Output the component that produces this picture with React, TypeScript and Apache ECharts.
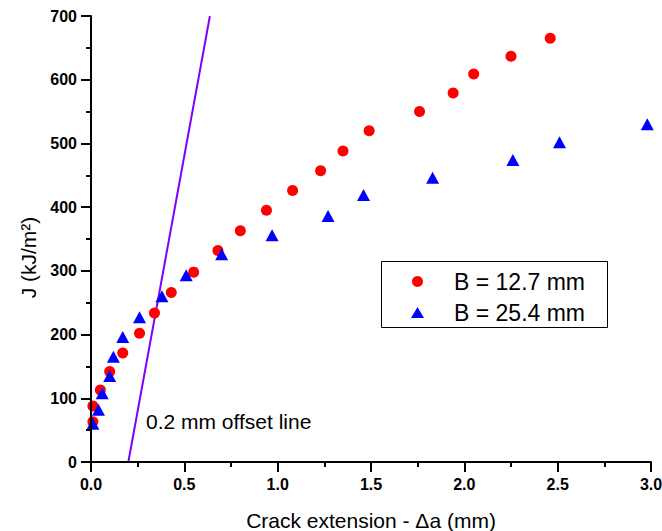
import React, { useEffect, useRef } from "react";
import * as echarts from "echarts";

// B = 12.7 mm specimen
const crackExt127 = [0.01, 0.01, 0.05, 0.1, 0.17, 0.26, 0.34, 0.43, 0.55, 0.68, 0.8, 0.94, 1.08, 1.23, 1.35, 1.49, 1.76, 1.94, 2.05, 2.25, 2.46];
const j127 = [63, 88, 113, 142, 171, 202, 234, 266, 298, 332, 363, 395, 426, 457, 488, 520, 550, 579, 609, 637, 665];

// B = 25.4 mm specimen
const crackExt254 = [0.01, 0.04, 0.06, 0.1, 0.12, 0.17, 0.26, 0.38, 0.51, 0.7, 0.97, 1.27, 1.46, 1.83, 2.26, 2.51, 2.98];
const j254 = [60, 82, 108, 135, 165, 196, 227, 260, 293, 326, 356, 386, 419, 446, 474, 502, 530];

// 0.2 mm offset line
const offsetDeltaA = [0.2, 0.637];
const offsetJ = [0, 700];

const seriesNames = ["B = 12.7 mm", "B = 25.4 mm"];
const xAxisTitle = "Crack extension - \u0394a (mm)";
const yAxisTitle = "J (kJ/m\u00B2)";
const offsetLabel = "0.2 mm offset line";

const FONT = 'Arial, "Liberation Sans", Helvetica, sans-serif';

const zip = (xs: number[], ys: number[]) => xs.map((x, i) => [x, ys[i]]);

export default function App() {
  const ref = useRef<HTMLDivElement>(null);
  useEffect(() => {
    const chart = echarts.init(ref.current!, null, { renderer: "svg" });
    const axisCommon = {
      type: "value",
      z: 10,
      nameLocation: "middle",
      axisLine: { show: true, onZero: false, lineStyle: { color: "#000", width: 2 } },
      axisTick: { show: true, inside: false, length: 10, lineStyle: { color: "#000", width: 2 } },
      minorTick: { show: true, splitNumber: 2, length: 5, lineStyle: { color: "#000", width: 2 } },
      splitLine: { show: false },
      minorSplitLine: { show: false },
    };
    const tickLabel = {
      margin: 14,
      fontSize: 16,
      fontWeight: 700,
      color: "#000",
      fontFamily: FONT,
    };
    chart.setOption({
      animation: false,
      backgroundColor: "#fff",
      textStyle: { fontFamily: FONT },
      grid: { left: 91, right: 11, top: 16, bottom: 69, containLabel: false, outerBoundsMode: "none" },
      xAxis: {
        ...axisCommon,
        min: 0,
        max: 3,
        interval: 0.5,
        name: xAxisTitle,
        nameGap: 48,
        nameTextStyle: { fontSize: 21, color: "#000", fontFamily: FONT },
        axisLabel: { ...tickLabel, formatter: (v: number) => v.toFixed(1) },
      },
      yAxis: {
        ...axisCommon,
        min: 0,
        max: 700,
        interval: 100,
        name: yAxisTitle,
        nameGap: 52,
        nameTextStyle: { fontSize: 21, color: "#000", fontFamily: FONT, padding: [0, 37, 0, 0] },
        axisLabel: { ...tickLabel },
      },
      legend: {
        orient: "vertical",
        left: 411,
        top: 270,
        padding: 0,
        itemWidth: 13,
        itemHeight: 11,
        itemGap: 8,
        selectedMode: false,
        textStyle: { fontSize: 23, color: "#000", fontFamily: FONT, padding: [0, 0, 0, 25] },
        data: [
          { name: seriesNames[0], icon: "circle" },
          { name: seriesNames[1], icon: "triangle" },
        ],
      },
      graphic: [
        {
          type: "rect",
          shape: { x: 381.5, y: 261.5, width: 226, height: 66 },
          style: { fill: "none", stroke: "#000", lineWidth: 1 },
          silent: true,
        },
        {
          type: "text",
          x: 146,
          y: 421,
          style: { text: offsetLabel, font: `21px ${FONT}`, fill: "#000", verticalAlign: "middle", align: "left" },
          silent: true,
        },
      ],
      series: [
        {
          type: "line",
          name: "offset",
          data: zip(offsetDeltaA, offsetJ),
          symbol: "none",
          lineStyle: { color: "#8000ff", width: 2 },
          silent: true,
          z: 1,
        },
        {
          type: "scatter",
          name: seriesNames[0],
          data: zip(crackExt127, j127),
          symbol: "circle",
          symbolSize: 11,
          itemStyle: { color: "#ff0000", opacity: 1 },
          z: 2,
        },
        {
          type: "scatter",
          name: seriesNames[1],
          data: zip(crackExt254, j254),
          symbol: "triangle",
          symbolSize: [13, 12],
          itemStyle: { color: "#0000ff", opacity: 1 },
          z: 3,
        },
      ],
    });
    return () => chart.dispose();
  }, []);
  return (
    <div
      ref={ref}
      style={{ position: "fixed", left: 0, top: 0, width: 662, height: 531, background: "#fff" }}
    />
  );
}
